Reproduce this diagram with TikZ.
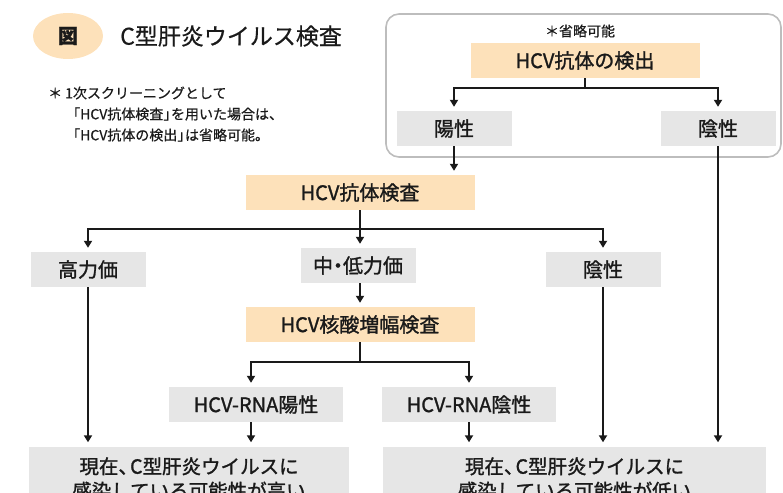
\documentclass[tikz,border=0pt]{standalone}
\usepackage{fontspec}
\setmainfont{Noto Sans CJK JP}
\newfontfamily\medfont{Noto Sans CJK JP}[RawFeature={embolden=1.3}]
\newfontfamily\semifont{Noto Sans CJK JP}[RawFeature={embolden=0.6}]
\usetikzlibrary{arrows.meta,shapes.geometric}
\definecolor{peach}{HTML}{FDE1BA}
\definecolor{boxgray}{HTML}{E6E6E6}
\definecolor{ink}{HTML}{1A1A1A}
\definecolor{framegray}{HTML}{BDBDBD}
\begin{document}
\begin{tikzpicture}[x=1pt,y=-1pt,
  every node/.style={text=ink, inner sep=0pt, font=\medfont\fontsize{20}{24}\selectfont},
  orangebox/.style={rectangle, fill=peach, minimum height=35pt},
  graybox/.style={rectangle, fill=boxgray, minimum height=35pt},
  resultbox/.style={rectangle, fill=boxgray, minimum height=64pt, align=center, font=\medfont\fontsize{19.5}{24.5}\selectfont},
  note/.style={anchor=west, font=\semifont\fontsize{14}{16}\selectfont},
  ln/.style={draw=ink, line width=2pt},
  arr/.style={draw=ink, line width=2pt, -{Triangle[width=8pt,length=7pt]}, shorten >=4pt}]
\clip (0,0) rectangle (783,492);

% title area
\node[ellipse, fill=peach, minimum width=70pt, minimum height=46pt, font=\medfont\fontsize{20}{22}\selectfont\bfseries] (fig) at (68,36) {図};
\node[anchor=west, font=\semifont\fontsize{23}{26}\selectfont] (title) at (120,36) {C型肝炎ウイルス検査};
\node[note] (n1) at (48,93) {＊\hspace{3pt}1次スクリーニングとして};
\node[note] (n2) at (66,114) {「HCV抗体検査」\hspace{-0.45em}を用いた場合は、};
\node[note] (n3) at (66,135) {「HCV抗体の検出」\hspace{-0.45em}は省略可能。};

% optional frame
\draw[framegray, line width=1.6pt, rounded corners=13pt] (386,14) rectangle (781,157);
\node[font=\semifont\fontsize{14}{16}\selectfont] (opt) at (580,31) {＊省略可能};

% boxes
\node[orangebox, minimum width=229pt] (detect) at (585,60.5) {HCV抗体の検出};
\node[graybox, minimum width=115pt] (pos1) at (454,128.5) {陽性};
\node[graybox, minimum width=115pt] (neg1) at (718,128.5) {陰性};
\node[orangebox, minimum width=229pt] (ab) at (360,192.5) {HCV抗体検査};
\node[graybox, minimum width=115pt] (high) at (88,269.5) {高力価};
\node[graybox, minimum width=115pt] (mid) at (358,265.5) {中\hspace{-0.25em}・\hspace{-0.25em}低力価};
\node[graybox, minimum width=115pt] (neg2) at (603,269.5) {陰性};
\node[orangebox, minimum width=229pt] (nat) at (360,324.5) {HCV核酸増幅検査};
\node[graybox, minimum width=174pt] (rpos) at (256,404.5) {HCV-RNA陽性};
\node[graybox, minimum width=174pt] (rneg) at (469,404.5) {HCV-RNA陰性};
\node[resultbox, minimum width=320pt] (resH) at (189,478.5) {現在、\hspace{-0.4em}C型肝炎ウイルスに\\感染している可能性が高い};
\node[resultbox, minimum width=383pt] (resL) at (574.5,478.5) {現在、\hspace{-0.4em}C型肝炎ウイルスに\\感染している可能性が低い};

% junctions
\coordinate (j1) at (585,88);
\coordinate (j2) at (360,229);
\coordinate (j3) at (360,362);
\coordinate (rp) at ([xshift=-5pt]rpos.south);
\coordinate (rpt) at ([xshift=-5pt]rpos.north);

% connectors
\draw[ln] (detect.south) -- (j1);
\draw[arr] (j1) -| (pos1.north);
\draw[arr] (j1) -| (neg1.north);
\draw[arr] (pos1.south) -- (pos1.south |- ab.north);
\draw[arr] (neg1.south) -- (neg1.south |- resL.north);

\draw[ln] (ab.south) -- (j2);
\draw[arr] (j2) -| (high.north);
\draw[arr] (j2) -- (j2 |- mid.north);
\draw[arr] (j2) -| (neg2.north);

\draw[arr] (high.south) -- (high.south |- resH.north);
\draw[arr] (neg2.south) -- (neg2.south |- resL.north);
\draw[arr] (nat.north |- mid.south) -- (nat.north);

\draw[ln] (nat.south) -- (j3);
\draw[arr] (j3) -| (rpt);
\draw[arr] (j3) -| (rneg.north);
\draw[arr] (rp) -- (rp |- resH.north);
\draw[arr] (rneg.south) -- (rneg.south |- resL.north);
\end{tikzpicture}
\end{document}
